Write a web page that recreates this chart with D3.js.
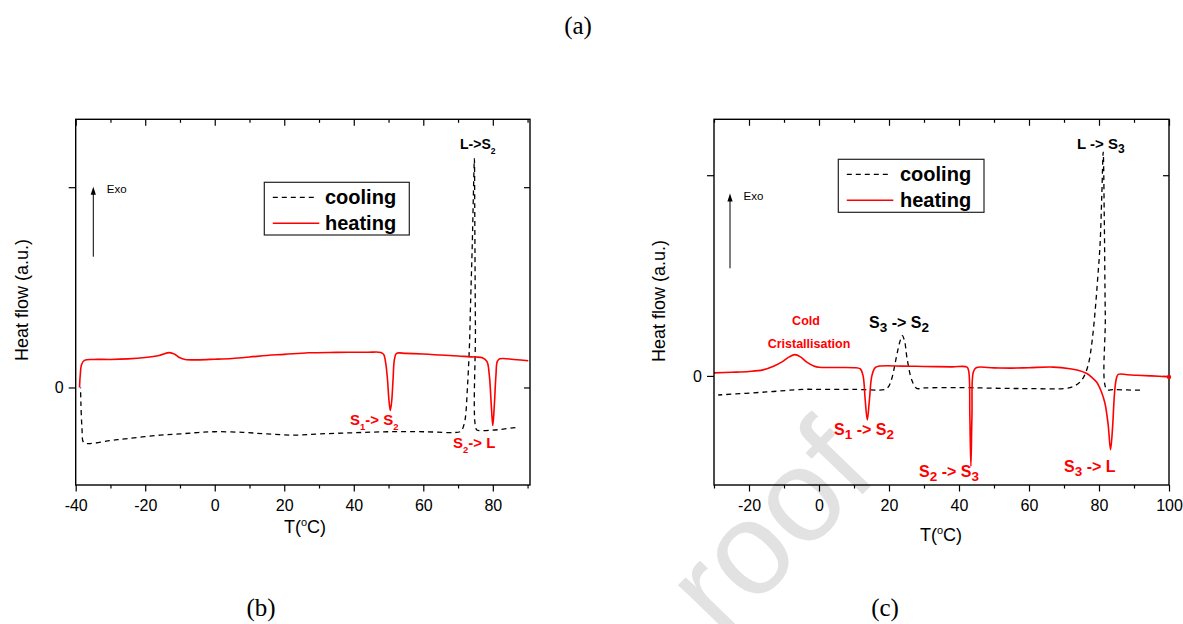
<!DOCTYPE html>
<html><head><meta charset="utf-8">
<script src="https://cdn.jsdelivr.net/npm/d3@7"></script>
<style>body{margin:0;background:#fff}svg{display:block}</style>
</head><body>
<svg id="c" width="1183" height="624"></svg>
<script>
// ---------------- DATA ----------------
// Panel (b): temperature (°C), heat flow (a.u.)
const bHeating = [[-38.9,0.0],[-38.7,0.06],[-38.3,0.115],[-37.5,0.135],[-35,0.14],[-30,0.14],[-25,0.143],[-20,0.15],[-16,0.16],[-13,0.174],[-11.5,0.166],[-10,0.148],[-8.5,0.14],[-5,0.138],[0,0.141],[5,0.145],[10,0.152],[15,0.16],[20,0.165],[27,0.173],[35,0.175],[44,0.176],[47.8,0.175],[48.6,0.165],[49.2,0.12],[49.7,0.04],[50.1,-0.06],[50.5,-0.115],[50.9,-0.07],[51.3,0.04],[51.7,0.14],[52.3,0.17],[55,0.17],[60,0.167],[65,0.162],[70,0.157],[75,0.152],[77,0.148],[78.3,0.13],[79,0.06],[79.6,-0.1],[80,-0.19],[80.4,-0.1],[80.9,0.06],[81.3,0.13],[82,0.143],[86,0.14],[90.2,0.133]];
const bCooling = [[86.5,-0.2],[83,-0.208],[80,-0.213],[76,-0.215],[75.3,-0.21],[75.0,0.3],[74.8,0.9],[74.7,1.142],[74.4,0.95],[74.1,0.718],[73.6,0.42],[73.3,0.219],[72.7,0.0],[72.0,-0.163],[71.2,-0.21],[70.6,-0.221],[60,-0.221],[50,-0.221],[40,-0.226],[30,-0.232],[22.6,-0.238],[15,-0.232],[8,-0.224],[0,-0.221],[-5,-0.225],[-10,-0.232],[-15.7,-0.238],[-25,-0.255],[-30,-0.265],[-35.9,-0.28],[-37.7,-0.275],[-38.2,-0.2],[-38.5,-0.08],[-38.6,0.0]];
// Panel (c)
const cHeating = [[-30,0.015],[-25,0.018],[-20,0.022],[-16,0.03],[-13,0.048],[-10.2,0.074],[-8.5,0.095],[-6.9,0.106],[-5.3,0.095],[-3.5,0.069],[-1.5,0.05],[0,0.043],[5,0.042],[10,0.041],[11.8,0.035],[12.6,0.0],[13.2,-0.12],[13.8,-0.219],[14.4,-0.12],[15.1,0.0],[16,0.04],[17,0.048],[24,0.049],[30,0.047],[38,0.045],[42.3,0.044],[42.8,0.02],[43.1,-0.2],[43.4,-0.45],[43.7,-0.2],[44.1,0.02],[44.9,0.041],[50,0.04],[55,0.039],[60,0.041],[66.9,0.044],[71.7,0.036],[74,0.028],[76.5,0.012],[78,-0.008],[79.3,-0.03],[80.6,-0.075],[81.7,-0.136],[82.6,-0.24],[83.3,-0.367],[83.9,-0.25],[84.3,-0.12],[84.6,-0.054],[85,-0.01],[85.5,0.008],[88,0.006],[90.8,0.003],[95,0.0],[100,-0.005]];
const cCooling = [[91.7,-0.071],[88,-0.07],[84,-0.068],[82.2,-0.067],[81.8,0.3],[81.5,0.8],[81.2,1.115],[80.8,0.9],[80.3,0.654],[79.6,0.48],[78.9,0.325],[78,0.17],[77,0.061],[75.8,0.0],[74.6,-0.03],[73,-0.05],[70.8,-0.062],[60,-0.063],[52.7,-0.062],[40,-0.058],[30,-0.06],[27.9,-0.062],[26.5,-0.02],[25.1,0.094],[24.5,0.17],[23.8,0.201],[23.1,0.17],[22.2,0.102],[20.8,-0.013],[19.8,-0.055],[18.9,-0.067],[10,-0.067],[0,-0.067],[-4.5,-0.067],[-15,-0.08],[-28.8,-0.095]];

const bXMajor = [-40,-20,0,20,40,60,80];
const bXMinor = [-30,-10,10,30,50,70,90];
const cXMajor = [-20,0,20,40,60,80,100];
const cXMinor = [-30,-10,10,30,50,70,90];
const yTicks = [0,1];
const yTickLabels = ["0",""];
const seriesNames = ["cooling","heating"];
const xTitle = ["T(","o","C)"];
const yTitle = "Heat flow (a.u.)";
const panelTags = ["(a)","(b)","(c)"];
const bLabels = ["L->S_2","S_1-> S_2","S_2-> L"];
const cLabels = ["L -> S_3","S_3 -> S_2","Cold","Cristallisation","S_1 -> S_2","S_2 -> S_3","S_3 -> L"];

// ---------------- DRAW ----------------
const SANS = "'Liberation Sans', Arial, Helvetica, sans-serif";
const SERIF = "'Liberation Serif', 'Times New Roman', serif";
const RED = "#ff0000";
const svg = d3.select("#c");
svg.append("rect").attr("width",1183).attr("height",624).attr("fill","#fff");

// watermark
svg.append("text").attr("transform","translate(722,640) rotate(-46)")
  .attr("font-family",SANS).attr("font-size",132).attr("fill","#e2e2e2").text("roof");

function rich(sel, str, subSize, subDy){
  const parts = str.split(/(_\w)/).filter(s=>s.length);
  let shift = 0;
  parts.forEach(p=>{
    const t = sel.append("tspan");
    if(p[0]==="_"){ t.attr("font-size",subSize).attr("dy",subDy-shift).text(p.slice(1)); shift = subDy; }
    else { t.attr("dy",-shift).text(p); shift = 0; }
  });
  return sel;
}

function panel(o){
  const g = svg.append("g");
  const x = d3.scaleLinear().domain(o.xDomain).range([o.left,o.right]);
  const y = d3.scaleLinear().domain(o.yDomain).range([o.bottom,o.top]);
  const fmt = d => String(d);
  const styleAxis = a => { a.select(".domain").remove(); a.selectAll("line").attr("stroke","#000").attr("stroke-width",1.2);
    a.attr("font-family",SANS).attr("font-size",16); a.selectAll("text").attr("fill","#000"); };
  // bottom
  g.append("g").attr("transform",`translate(0,${o.bottom})`).call(d3.axisBottom(x).tickValues(o.xMajor).tickSize(6.5).tickPadding(8).tickFormat(fmt)).call(styleAxis);
  g.append("g").attr("transform",`translate(0,${o.bottom})`).call(d3.axisBottom(x).tickValues(o.xMinor.filter(v=>v>=o.xDomain[0]&&v<=o.xDomain[1])).tickSize(3.5).tickFormat("")).call(styleAxis);
  // top (inward)
  g.append("g").attr("transform",`translate(0,${o.top})`).call(d3.axisTop(x).tickValues(o.xMajor).tickSize(-6.5).tickFormat("")).call(styleAxis);
  g.append("g").attr("transform",`translate(0,${o.top})`).call(d3.axisTop(x).tickValues(o.xMinor.filter(v=>v>=o.xDomain[0]&&v<=o.xDomain[1])).tickSize(-3.5).tickFormat("")).call(styleAxis);
  // left
  g.append("g").attr("transform",`translate(${o.left},0)`).call(d3.axisLeft(y).tickValues(yTicks).tickSize(7).tickPadding(5).tickFormat((d,i)=>yTickLabels[i])).call(styleAxis);
  // right (inward)
  g.append("g").attr("transform",`translate(${o.right},0)`).call(d3.axisRight(y).tickValues(yTicks).tickSize(-6).tickFormat("")).call(styleAxis);

  // curves
  const clipId = "clip"+o.id;
  svg.append("clipPath").attr("id",clipId).append("rect").attr("x",o.left).attr("y",o.top).attr("width",o.right-o.left).attr("height",o.bottom-o.top);
  const line = d3.line().x(d=>x(d[0])).y(d=>y(d[1])).curve(d3.curveCatmullRom.alpha(0.5));
  const cg = g.append("g").attr("clip-path",`url(#${clipId})`);
  cg.append("path").datum(o.cool).attr("d",line).attr("fill","none").attr("stroke","#000").attr("stroke-width",1.3).attr("stroke-dasharray","5,4");
  cg.append("path").datum(o.heat).attr("d",line).attr("fill","none").attr("stroke",RED).attr("stroke-width",1.6);

  // frame
  g.append("rect").attr("x",o.left).attr("y",o.top).attr("width",o.right-o.left).attr("height",o.bottom-o.top)
    .attr("fill","none").attr("stroke","#000").attr("stroke-width",1.4);

  // axis titles
  const xt = g.append("text").attr("x",o.xTitle[0]).attr("y",o.xTitle[1]).attr("text-anchor","middle")
    .attr("font-family",SANS).attr("font-size",18);
  xt.append("tspan").text(xTitle[0]);
  xt.append("tspan").attr("font-size",11).attr("dy",-7).text(xTitle[1]);
  xt.append("tspan").attr("dy",7).text(xTitle[2]);
  g.append("text").attr("transform",`translate(${o.yTitle[0]},${o.yTitle[1]}) rotate(-90)`).attr("text-anchor","middle")
    .attr("font-family",SANS).attr("font-size",18).text(yTitle);

  // Exo arrow
  g.append("line").attr("x1",o.exo[0]).attr("x2",o.exo[0]).attr("y1",o.exo[2]).attr("y2",o.exo[1]+6).attr("stroke","#000").attr("stroke-width",1);
  g.append("path").attr("d",`M${o.exo[0]},${o.exo[1]} l-2.6,8 h5.2 z`).attr("fill","#000");
  g.append("text").attr("x",o.exo[0]+13.5).attr("y",o.exo[1]+6.5).attr("font-family",SANS).attr("font-size",11.5).text("Exo");

  // legend
  const L = o.legend;
  g.append("rect").attr("x",L[0]).attr("y",L[1]).attr("width",L[2]).attr("height",L[3]).attr("fill","#fff").attr("stroke","#222").attr("stroke-width",1.2);
  g.append("line").attr("x1",L[0]+8.5).attr("x2",L[0]+53).attr("y1",L[1]+15).attr("y2",L[1]+15).attr("stroke","#000").attr("stroke-width",1.3).attr("stroke-dasharray","5,4");
  g.append("line").attr("x1",L[0]+8.5).attr("x2",L[0]+55).attr("y1",L[1]+41).attr("y2",L[1]+41).attr("stroke",RED).attr("stroke-width",1.6);
  g.append("text").attr("x",L[0]+L[4]).attr("y",L[1]+22).attr("font-family",SANS).attr("font-weight","bold").attr("font-size",20).text(seriesNames[0]);
  g.append("text").attr("x",L[0]+L[4]).attr("y",L[1]+47.5).attr("font-family",SANS).attr("font-weight","bold").attr("font-size",20).text(seriesNames[1]);

  // annotations
  o.notes.forEach(n=>{
    const t = g.append("text").attr("x",n.x).attr("y",n.y).attr("font-family",SANS).attr("font-weight","bold")
      .attr("font-size",n.size).attr("fill",n.color).attr("text-anchor",n.anchor||"start");
    rich(t, n.text, n.sub, n.subDy);
  });
  return {x,y,g};
}

const pb = panel({id:"b", xDomain:[-40,90.7], yDomain:[-0.487,1.339], left:75.7, right:530, top:119.3, bottom:485,
  xMajor:bXMajor, xMinor:bXMinor, heat:bHeating, cool:bCooling,
  xTitle:[305,533], yTitle:[28,300], exo:[93.3,186.7,256.7], legend:[264.3,182.3,145,52.7,60.7],
  notes:[
    {text:bLabels[0], x:460, y:149, size:14, sub:8.5, subDy:5, color:"#000"},
    {text:bLabels[1], x:350, y:425, size:15, sub:9.5, subDy:4.5, color:RED},
    {text:bLabels[2], x:453, y:448, size:15, sub:9.5, subDy:4.5, color:RED}
  ]});

const pc = panel({id:"c", xDomain:[-30,100], yDomain:[-0.5435,1.2786], left:714, right:1169, top:119.3, bottom:485,
  xMajor:cXMajor, xMinor:cXMinor, heat:cHeating, cool:cCooling,
  xTitle:[941,541], yTitle:[665,301], exo:[730,193.5,268.3], legend:[838.3,159.3,145.7,53,61.7],
  notes:[
    {text:cLabels[0], x:1077, y:148.5, size:15, sub:12, subDy:4, color:"#000"},
    {text:cLabels[1], x:869, y:328.3, size:16, sub:13.5, subDy:4, color:"#000"},
    {text:cLabels[2], x:806, y:325, size:12.5, sub:10, subDy:3, color:RED, anchor:"middle"},
    {text:cLabels[3], x:809, y:347.7, size:12.5, sub:10, subDy:3, color:RED, anchor:"middle"},
    {text:cLabels[4], x:834, y:435, size:16, sub:13.5, subDy:4, color:RED},
    {text:cLabels[5], x:919, y:477.3, size:16, sub:13.5, subDy:4, color:RED},
    {text:cLabels[6], x:1064, y:471.7, size:16, sub:13.5, subDy:4, color:RED}
  ]});
// end marker on heating curve (c)
const lastC = cHeating[cHeating.length-1];
pc.g.append("circle").attr("cx",pc.x(lastC[0])).attr("cy",pc.y(lastC[1])).attr("r",2.2).attr("fill",RED);

// panel tags
svg.append("text").attr("x",578).attr("y",34).attr("text-anchor","middle").attr("font-family",SERIF).attr("font-size",25).text(panelTags[0]);
svg.append("text").attr("x",261).attr("y",616).attr("text-anchor","middle").attr("font-family",SERIF).attr("font-size",25).text(panelTags[1]);
svg.append("text").attr("x",885).attr("y",616).attr("text-anchor","middle").attr("font-family",SERIF).attr("font-size",25).text(panelTags[2]);
</script></body></html>
